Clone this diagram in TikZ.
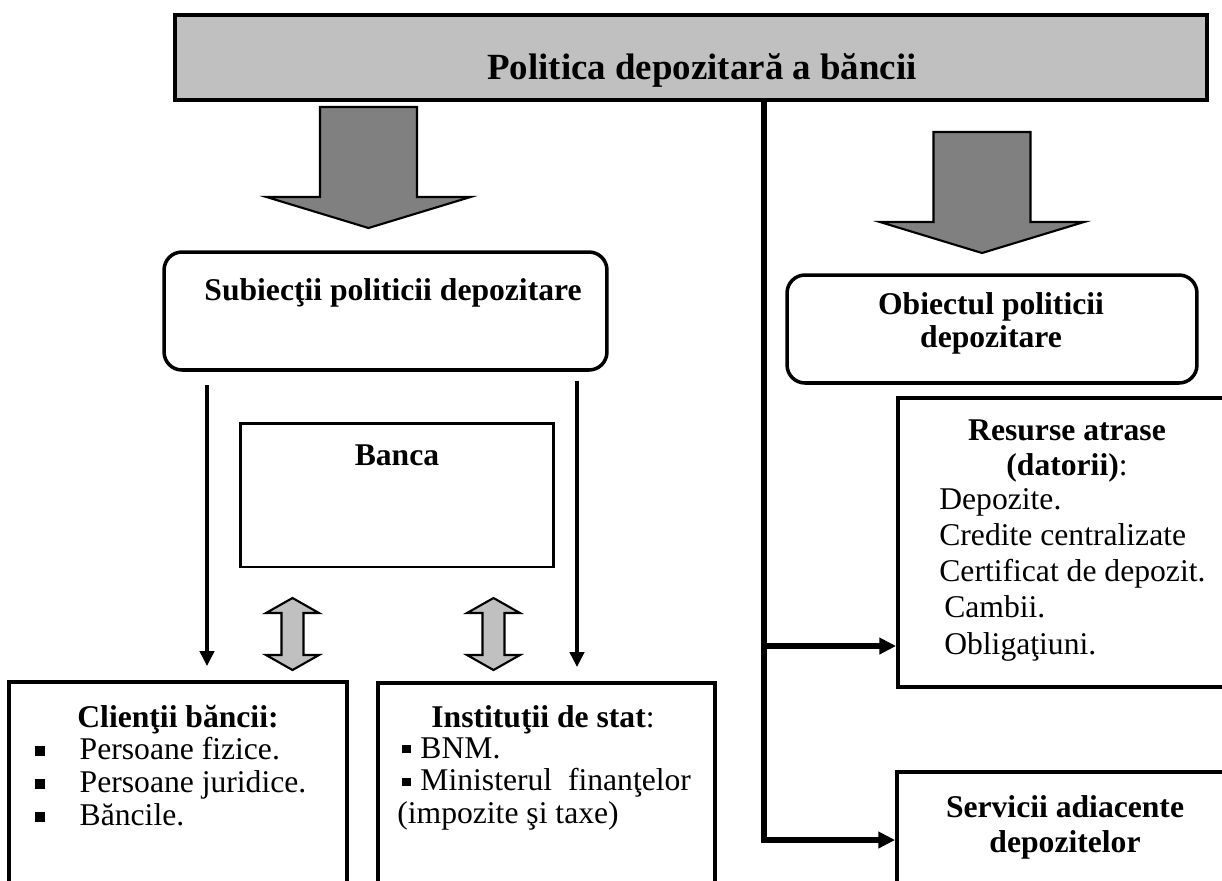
\documentclass[tikz,border=0pt]{standalone}
\usepackage{fontspec}
\setmainfont{Liberation Serif}
\usepackage{tikz}
\usetikzlibrary{arrows.meta}

\definecolor{titlegray}{RGB}{192,192,192}
\definecolor{arrowgray}{RGB}{128,128,128}
\newcommand{\bodyfont}{\fontsize{18}{18.7}\selectfont}
\newcommand{\bigsq}{\rule[0.1em]{0.32em}{0.32em}}
\newcommand{\smallsq}{\rule[0.15em]{0.27em}{0.27em}}

\begin{document}
\begin{tikzpicture}[x=0.02cm, y=-0.02cm]
\tikzset{
titlebox/.style = {draw, line width=2.3pt, fill=titlegray, minimum width=20.64cm, minimum height=1.7cm},
roundbox/.style = {draw, line width=2pt, rounded corners=0.36cm, fill=white},
plainbox/.style = {draw, line width=2.2pt, fill=white},
txt/.style      = {inner sep=0pt, align=center, font=\bodyfont},
headtxt/.style  = {txt, font=\bodyfont\bfseries},
listtxt/.style  = {inner sep=0pt, align=left, anchor=north west, font=\bodyfont},
downline/.style = {line width=2.5pt, shorten >=0.28cm, -{Triangle[length=8.5pt, width=8pt]}},
trunk/.style    = {line width=3pt, -{Triangle[length=9.5pt, width=9pt]}},
bigdown/.pic    = {\filldraw[fill=arrowgray, line width=1.2pt]
    (-48.5,0) -- (48.5,0) -- (48.5,90) -- (102,90) -- (0,121) -- (-102,90) -- (-48.5,90) -- cycle;},
updown/.pic     = {\filldraw[fill=titlegray, line width=1.2pt]
    (0,-36) -- (26.5,-21) -- (11,-21) -- (11,21) -- (26.5,21) -- (0,36)
    -- (-26.5,21) -- (-11,21) -- (-11,-21) -- (-26.5,-21) -- cycle;},
}
    \useasboundingbox (0,0) rectangle (1222,880);
    \clip (0,0) rectangle (1222,880);

    % Title
    \node [titlebox]                        (title)     at (691,57.5)  {};
    \node [txt, font=\fontsize{21}{24}\selectfont\bfseries] (titletext) at (702,70) {Politica depozitară a băncii};

    % Big arrows
    \pic at (368.5,107) {bigdown};
    \pic at (982,132)   {bigdown};

    % Left side
    \node [roundbox, minimum width=8.86cm, minimum height=2.36cm] (subj) at (385.5,311) {};
    \node [headtxt]                         (subjtext)  at (393,293)   {Subiecţii politicii depozitare};
    \node [plainbox, line width=1.7pt, minimum width=6.28cm, minimum height=2.88cm] (banca) at (397,495) {};
    \node [headtxt]                         (bancatext) at (397,455)   {Banca};

    \node [plainbox, minimum width=6.76cm, minimum height=4.36cm] (clienti) at (178,791) {};
    \node [headtxt]                         (clientihead) at (178,720) {Clienţii băncii:};
    \node [listtxt]                         (clientilist) at (35,737)
        {\bigsq\hspace{19.5pt}Persoane fizice.\\\bigsq\hspace{19.5pt}Persoane juridice.\\\bigsq\hspace{19.5pt}Băncile.};

    \node [plainbox, minimum width=6.74cm, minimum height=4.34cm] (instit) at (546.5,791.5) {};
    \node [txt]                             (instithead) at (543,720)  {\textbf{Instituţii de stat}:};
    \node [listtxt]                         (institlist) at (397,737)
        {\hspace*{2.8pt}\smallsq\hspace{5.5pt}BNM.\\\hspace*{2.8pt}\smallsq\hspace{5.5pt}Ministerul\ \ finanţelor\\(impozite şi taxe)};

    \pic at (292.5,634) {updown};
    \pic at (493.5,634) {updown};

    % Left edges
    \coordinate (lefttop)  at (207,385);
    \coordinate (righttop) at (577,381);
    \draw [downline] (lefttop)  -- (lefttop |- clienti.north);
    \draw [downline] (righttop) -- (righttop |- instit.north);

    % Right side
    \node [roundbox, minimum width=8.2cm, minimum height=2.16cm] (obj) at (992,329) {};
    \node [headtxt]                         (objtext)   at (991,323)   {Obiectul politicii\\depozitare};

    \node [plainbox, minimum width=6.84cm, minimum height=5.78cm] (resurse) at (1069,542.5) {};
    \node [txt, font=\fontsize{18}{19.8}\selectfont] (resursehead) at (1067,451) {\textbf{Resurse atrase}\\\textbf{(datorii)}:};
    \node [listtxt, font=\fontsize{18}{20.6}\selectfont] (resurselist) at (939,488)
        {Depozite.\\Credite centralizate\\Certificat de depozit.\\\hspace*{2.8pt}Cambii.\\\hspace*{2.8pt}Obligaţiuni.};

    \node [plainbox, minimum width=6.86cm, minimum height=2.56cm] (servicii) at (1068.5,836) {};
    \node [headtxt, font=\fontsize{18}{19.8}\selectfont\bfseries] (serviciitext) at (1065,827) {Servicii adiacente\\depozitelor};

    % Right edges
    \coordinate (trunkx)  at (764,0);
    \coordinate (branchA) at (764,646);
    \coordinate (branchB) at (764,840);
    \draw [trunk] (title.south -| trunkx) -- (branchB) -- (branchB -| servicii.west);
    \draw [trunk] (branchA) -- (branchA -| resurse.west);

\end{tikzpicture}
\end{document}
